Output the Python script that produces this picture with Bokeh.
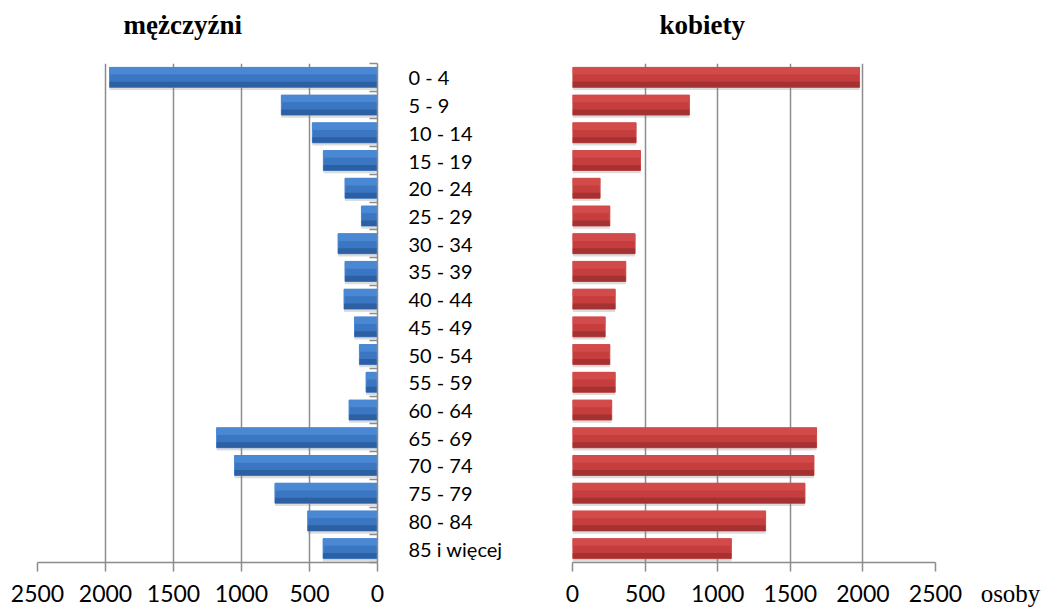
from bokeh.plotting import figure
from bokeh.layouts import row
from bokeh.models import Range1d, FixedTicker, ColumnDataSource, LinearAxis, Title
from bokeh.core.properties import value
from bokeh.embed import file_html
from bokeh.resources import INLINE

# ---- data ----
ages = ["0 - 4", "5 - 9", "10 - 14", "15 - 19", "20 - 24", "25 - 29",
        "30 - 34", "35 - 39", "40 - 44", "45 - 49", "50 - 54", "55 - 59",
        "60 - 64", "65 - 69", "70 - 74", "75 - 79", "80 - 84", "85 i więcej"]
men = [1970, 707, 479, 398, 239, 118, 290, 239, 246, 169, 133, 84,
       209, 1183, 1051, 754, 513, 400]
women = [1977, 805, 438, 468, 190, 257, 431, 367, 294, 225, 257, 294,
         270, 1681, 1663, 1601, 1330, 1094]
x_ticks = [0, 500, 1000, 1500, 2000, 2500]
title_men = "mężczyźni"
title_women = "kobiety"
unit_label = "osoby"

n = len(ages)
ypos = [n - 1 - i for i in range(n)]
boundaries = [k - 0.5 for k in range(n + 1)]

GRID = "#8c8c8c"
TICK_FONT = "Lato"
BAR_H = 0.72
TOP, FH, BOT = 63, 499, 47


def bars(p, vals, mid, light, dark):
    src = ColumnDataSource(dict(
        y=ypos, v=vals,
        ys=[y - 0.1 for y in ypos],
        yt=[y + BAR_H / 2 - 0.13 for y in ypos],
        yb=[y - BAR_H / 2 + 0.1 for y in ypos],
    ))
    p.hbar(y="ys", left=0, right="v", height=BAR_H, source=src,
           fill_color="#808080", fill_alpha=0.28, line_color=None)
    p.hbar(y="y", left=0, right="v", height=BAR_H, source=src,
           fill_color=mid, line_color=light, line_width=1)
    p.hbar(y="yt", left=0, right="v", height=0.26, source=src,
           fill_color=light, line_color=None)
    p.hbar(y="yb", left=0, right="v", height=0.2, source=src,
           fill_color=dark, line_color=None)


def style_x(p, standoff):
    ax = p.xaxis[0]
    ax.ticker = FixedTicker(ticks=x_ticks)
    ax.major_tick_out = 9
    ax.major_tick_in = 0
    ax.minor_tick_line_color = None
    ax.axis_line_color = GRID
    ax.axis_line_width = 1.5
    ax.major_tick_line_color = GRID
    ax.major_tick_line_width = 1.5
    ax.major_label_text_font = TICK_FONT
    ax.major_label_text_font_size = "23px"
    ax.major_label_text_color = "black"
    ax.major_label_standoff = standoff
    p.xgrid.ticker = FixedTicker(ticks=x_ticks)
    p.xgrid.grid_line_color = GRID
    p.xgrid.grid_line_width = 1.5


def add_title(p, text, offset):
    # invisible spacer axis directly above the frame lifts the title
    spacer = LinearAxis(ticker=FixedTicker(ticks=[1250]), major_tick_out=24,
                        major_tick_in=0, minor_tick_out=0, minor_tick_in=0,
                        axis_line_color=None, major_tick_line_color=None,
                        minor_tick_line_color=None, major_label_standoff=0,
                        major_label_text_color=None,
                        major_label_text_font_size="1px")
    p.add_layout(spacer, "above")
    t = Title(text=text, text_font="Liberation Serif", text_font_style="bold",
              text_font_size="27px", text_color="black", align="left",
              offset=offset, standoff=0)
    p.add_layout(t, "above")


# ---- left: men ----
L = figure(frame_width=340, frame_height=FH, x_range=Range1d(2500, 0),
           y_range=Range1d(-0.5, n - 0.5), y_axis_location="right",
           min_border_left=37, min_border_right=10, min_border_top=TOP,
           min_border_bottom=BOT, output_backend="svg", toolbar_location=None)
L.outline_line_color = None
bars(L, men, "#3A76C2", "#4A88D4", "#2D60A3")
style_x(L, 13)
L.ygrid.grid_line_color = None
ya = L.yaxis[0]
ya.ticker = FixedTicker(ticks=boundaries)
ya.major_tick_in = 8
ya.major_tick_out = 0
ya.minor_tick_line_color = None
ya.major_label_text_font_size = "1px"
ya.major_label_text_color = None
ya.major_label_standoff = 0
ya.axis_line_color = GRID
ya.axis_line_width = 1.5
ya.major_tick_line_color = GRID
ya.major_tick_line_width = 1.5
add_title(L, title_men, 86)

# ---- middle: age labels ----
M = figure(frame_width=175, frame_height=FH, x_range=Range1d(0, 1),
           y_range=L.y_range, x_axis_location=None, y_axis_location=None,
           min_border_left=0, min_border_right=0, min_border_top=TOP,
           min_border_bottom=BOT, output_backend="svg", toolbar_location=None)
M.outline_line_color = None
M.grid.visible = False
M.text(x=[0] * n, y=ypos, text=ages, x_offset=21, text_align="left",
       text_baseline="middle", text_font=value(TICK_FONT),
       text_font_size="20px", text_color="black")

# ---- right: women ----
R = figure(frame_width=363, frame_height=FH, x_range=Range1d(0, 2500),
           y_range=Range1d(-0.5, n - 0.5), y_axis_location=None,
           min_border_left=10, min_border_right=30, min_border_top=TOP,
           min_border_bottom=BOT, output_backend="svg", toolbar_location=None)
R.outline_line_color = None
bars(R, women, "#C63D3D", "#D24A4A", "#A53232")
style_x(R, 13)
R.ygrid.grid_line_color = None
add_title(R, title_women, 87)

# ---- unit label (as axis label of a blank panel) ----
O = figure(frame_width=72, frame_height=FH, x_range=Range1d(0, 1),
           y_range=Range1d(0, 1), y_axis_location=None,
           min_border_left=9, min_border_right=0, min_border_top=TOP,
           min_border_bottom=BOT, output_backend="svg", toolbar_location=None)
O.outline_line_color = None
O.grid.visible = False
ox = O.xaxis[0]
ox.ticker = FixedTicker(ticks=[])
ox.axis_line_color = None
ox.major_tick_out = 0
ox.major_tick_in = 0
ox.minor_tick_out = 0
ox.minor_tick_in = 0
ox.major_label_standoff = 0
ox.axis_label = unit_label
ox.axis_label_standoff = 17
ox.axis_label_text_font = "Liberation Serif"
ox.axis_label_text_font_style = "normal"
ox.axis_label_text_font_size = "25px"
ox.axis_label_text_color = "black"

layout = row(L, M, R, O)
open("out.html", "w").write(file_html(layout, INLINE))
